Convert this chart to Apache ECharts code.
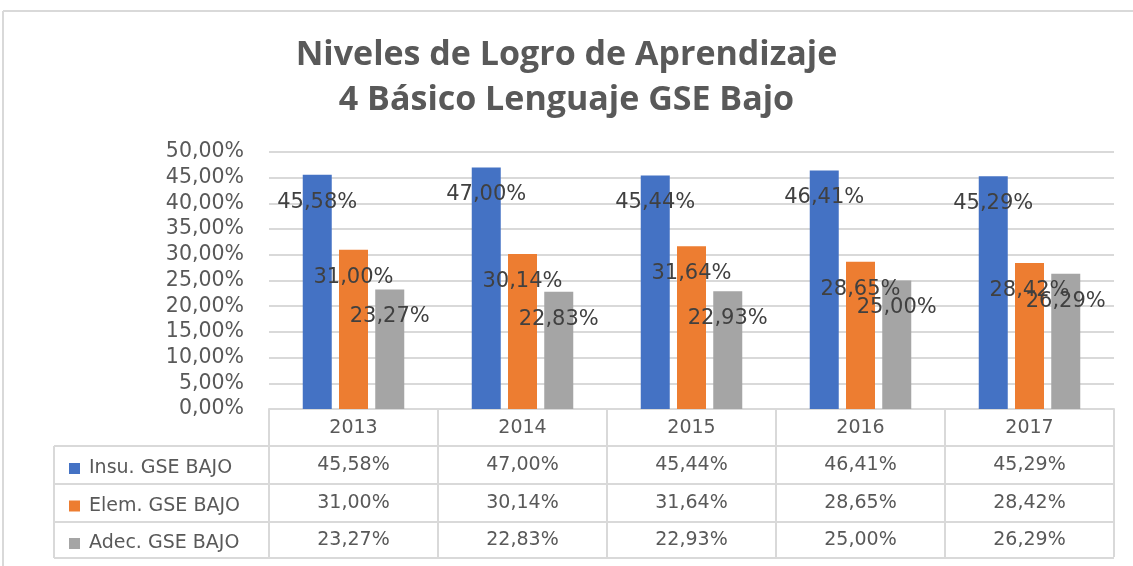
<!DOCTYPE html>
<html>
<head>
<meta charset="utf-8">
<script src="https://cdn.jsdelivr.net/npm/echarts@6/dist/echarts.min.js"></script>
<style>
  html, body { margin: 0; padding: 0; background: #fff; }
  #chart { width: 1133px; height: 566px; }
</style>
</head>
<body>
<div id="chart"></div>
<script>
// datos del gráfico
const years = ['2013', '2014', '2015', '2016', '2017'];
const seriesNames = ['Insu. GSE BAJO', 'Elem. GSE BAJO', 'Adec. GSE BAJO'];
const insu = [45.58, 47.00, 45.44, 46.41, 45.29];
const elem = [31.00, 30.14, 31.64, 28.65, 28.42];
const adec = [23.27, 22.83, 22.93, 25.00, 26.29];
const colors = ['#4472C4', '#ED7D31', '#A5A5A5'];

function pct(v) {
  return v.toFixed(2).replace('.', ',') + '%';
}

const allData = [insu, elem, adec];
const tableColor = '#d9d9d9';
const textFont = '"DejaVu Sans", Verdana, sans-serif';

// lineas de la tabla de datos (layout)
const tableLeft = 54, tableRight = 1114;
const rowLines = [446, 484, 522, 558];
const graphics = [
  { type: 'line', shape: { x1: 3, y1: 11, x2: 1133, y2: 11 }, style: { stroke: tableColor, lineWidth: 2 } },
  { type: 'line', shape: { x1: 3, y1: 11, x2: 3, y2: 566 }, style: { stroke: tableColor, lineWidth: 2 } },
  { type: 'line', shape: { x1: tableLeft, y1: 446, x2: tableLeft, y2: 558 }, style: { stroke: tableColor, lineWidth: 2 } }
];
rowLines.forEach(function (y) {
  graphics.push({ type: 'line', shape: { x1: tableLeft, y1: y, x2: tableRight, y2: y }, style: { stroke: tableColor, lineWidth: 2 } });
});

const myChart = echarts.init(document.getElementById('chart'));
const option = {
  backgroundColor: '#fff',
  animation: false,
  title: {
    text: 'Niveles de Logro de Aprendizaje\n4 Básico Lenguaje GSE Bajo',
    left: 'center',
    top: 28,
    textStyle: {
      fontFamily: '"Open Sans", sans-serif',
      fontWeight: 'bold',
      fontSize: 34,
      lineHeight: 45,
      color: '#595959'
    }
  },
  legend: {
    orient: 'vertical',
    left: 64,
    top: 454,
    itemWidth: 11,
    itemHeight: 11,
    itemGap: 18.5,
    icon: 'rect',
    data: seriesNames,
    textStyle: {
      fontFamily: textFont,
      fontSize: 19,
      lineHeight: 19,
      color: '#595959',
      padding: [0, 0, 0, 4]
    }
  },
  grid: {
    left: 269,
    right: 19,
    top: 152,
    bottom: 157
  },
  xAxis: {
    type: 'category',
    data: years,
    axisLine: { lineStyle: { color: tableColor, width: 2 } },
    axisTick: { show: true, interval: 0, length: 148, lineStyle: { color: tableColor, width: 2 } },
    axisLabel: {
      interval: 0,
      margin: 0,
      fontFamily: textFont,
      fontSize: 19,
      lineHeight: 37.5,
      color: '#595959',
      formatter: function (val, idx) {
        return [val].concat(allData.map(function (d) { return pct(d[idx]); })).join('\n');
      }
    }
  },
  yAxis: {
    type: 'value',
    min: 0,
    max: 50,
    interval: 5,
    axisLine: { show: false },
    axisTick: { show: false },
    splitLine: { lineStyle: { color: tableColor, width: 2 } },
    axisLabel: {
      margin: 25,
      fontFamily: textFont,
      fontSize: 20.5,
      color: '#595959',
      formatter: function (v) { return pct(v); }
    }
  },
  series: seriesNames.map(function (name, i) {
    return {
      name: name,
      type: 'bar',
      data: allData[i],
      barWidth: 29,
      barGap: '25%',
      itemStyle: { color: colors[i] },
      label: {
        show: true,
        position: 'insideTop',
        distance: 17,
        fontFamily: textFont,
        fontSize: 21,
        color: '#404040',
        formatter: function (p) { return pct(p.value); }
      }
    };
  }),
  graphic: graphics
};
myChart.setOption(option);
window.addEventListener('resize', function () {
  myChart.resize();
});
</script>
</body>
</html>
